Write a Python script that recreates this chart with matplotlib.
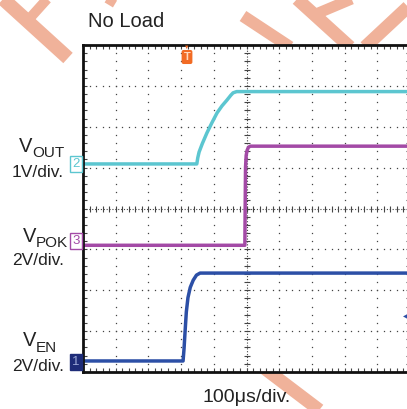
import numpy as np
import matplotlib
matplotlib.use("Agg")
import matplotlib.pyplot as plt
from matplotlib.lines import Line2D

plt.rcParams['font.family'] = ['Liberation Sans', 'DejaVu Sans']

# time in microseconds, 100us/div, 10 divisions
t_en = [0, 306, 309, 312, 316, 321, 328, 337, 347, 358, 1000]
v_en = [0, 0, 0.6, 1.4, 2.4, 3.1, 3.6, 3.95, 4.2, 4.3, 4.3]      # V, 2V/div

t_out = [0, 348, 351, 355, 365, 379, 395, 410, 425, 440, 452, 459, 470, 480, 1000]
v_out = [0, 0, 0.15, 0.29, 0.5, 0.76, 1.02, 1.25, 1.42, 1.56, 1.68, 1.74, 1.77, 1.77, 1.77]  # V, 1V/div

t_pok = [0, 495, 496, 497, 499, 502, 506, 512, 1000]
v_pok = [0, 0, 2.0, 3.8, 4.4, 4.65, 4.8, 4.85, 4.85]            # V, 2V/div

# channel ground positions (divisions from bottom) and volts/div
ch_offset = {"en": 0.27, "out": 5.09, "pok": 3.1}
ch_scale = {"en": 2.0, "out": 1.0, "pok": 2.0}

c_out = "#5cc6d0"
c_pok = "#a34aa6"
c_en = "#2c4fa6"
c_mark = "#f0b29a"
c_txt = "#222222"

W, H = 407, 409
fig = plt.figure(figsize=(W / 100, H / 100), dpi=100)


def fx(x):
    return x / W


def fy(y):
    return 1 - y / H


# watermark stripes behind the plot
stripes = [
    ((2, -2), (68, 58), 14),
    ((30, 18), (48, -2), 10),
    ((243, 16), (290, 47), 12),
    ((296, -2), (350, 47), 13),
    ((316, 14), (354, -2), 11),
    ((410, 5), (365, 47), 13),
    ((264, 368), (322, 412), 13),
    ((105, -2), (115, 4), 8),
]
for (x0, y0), (x1, y1), w in stripes:
    fig.add_artist(Line2D([fx(x0), fx(x1)], [fy(y0), fy(y1)], color=c_mark,
                          lw=w * 0.72, solid_capstyle='butt', zorder=0))

ax = fig.add_axes([fx(83), fy(372), 327 / W, 327 / H])
ax.set_facecolor("white")
ax.set_zorder(1)
ax.set_xlim(0, 10)
ax.set_ylim(0, 8)

# graticule
gcol = '#444444'
for gx in range(1, 10):
    if gx == 5:
        continue
    yy = np.arange(0.2, 8, 0.2)
    ax.plot(np.full_like(yy, gx), yy, ls='none', marker='s', ms=0.9, color=gcol, mew=0)
for gy in range(1, 8):
    if gy == 4:
        continue
    xx = np.arange(0.2, 10, 0.2)
    ax.plot(xx, np.full_like(xx, gy), ls='none', marker='s', ms=0.9, color=gcol, mew=0)
ax.plot([5, 5], [0, 8], color=gcol, lw=0.8, ls=(0, (1, 1.6)))
ax.plot([0, 10], [4, 4], color=gcol, lw=0.8, ls=(0, (1, 1.6)))
tk = np.arange(0.2, 10, 0.2)
ax.plot(tk, np.full_like(tk, 4), ls='none', marker='|', ms=4.5, mew=0.8, color=gcol)
tk = np.arange(0.2, 8, 0.2)
ax.plot(np.full_like(tk, 5), tk, ls='none', marker='_', ms=4.5, mew=0.8, color=gcol)

ax.set_xticks(np.arange(0, 10.01, 0.2))
ax.set_yticks(np.arange(0, 8.01, 0.2))
ax.tick_params(direction='in', length=3, width=0.8, color=gcol,
               top=True, right=True, labelbottom=False, labelleft=False)
for s in ax.spines.values():
    s.set_linewidth(2)
    s.set_color('#111111')


def div_x(t):
    return np.asarray(t) / 100.0


def div_y(v, ch):
    return ch_offset[ch] + np.asarray(v) / ch_scale[ch]


ax.plot(div_x(t_out), div_y(v_out, "out"), color=c_out, lw=2.5)
ax.plot(div_x(t_pok), div_y(v_pok, "pok"), color=c_pok, lw=2.5)
ax.plot(div_x(t_en), div_y(v_en, "en"), color=c_en, lw=2.5)
ax.plot(div_x(t_pok[1:3]), div_y(v_pok[1:3], "pok"), color=c_pok, lw=1.0)
ax.plot(div_x(t_en[1:4]), div_y(v_en[1:4], "en"), color=c_en, lw=1.2)

# trigger marker and trigger level
fig.text(fx(187), fy(57), "T", color="#ffd9c0", fontsize=8, fontweight='bold',
         ha='center', va='center', zorder=5,
         bbox=dict(boxstyle='round,pad=0.12', fc='#f26b24', ec='#f26b24'))
fig.text(fx(187), fy(47), "\u25BC", color='#f26b24', fontsize=4, ha='center', va='center', zorder=5)
fig.text(fx(405), fy(317), "\u25C0", color=c_en, fontsize=4, ha='center', va='center', zorder=5)

# channel markers
for label, y, fc, ec, tc in [("2", 164, "white", c_out, c_out),
                             ("3", 241, "white", c_pok, c_pok),
                             ("1", 362, "#1e2c78", "#1e2c78", "#9aa6d6")]:
    fig.text(fx(76), fy(y), label, color=tc, fontsize=9.5, ha='center', va='center', zorder=5,
             bbox=dict(boxstyle='square,pad=0.14', fc=fc, ec=ec, lw=1.0))

fig.text(fx(88), fy(27), "No Load", fontsize=14.5, color=c_txt, ha='left', va='baseline')
fig.text(fx(247), fy(402), "100\u03bcs/div.", fontsize=14, color=c_txt, ha='center', va='baseline')

# channel labels: big V with smaller subscript, then scale
for sub, xv, yv, ysub, ydiv in [("OUT", 19, 152, 157, 177),
                                ("POK", 23, 242, 247, 265),
                                ("EN", 23, 346, 352, 371)]:
    fig.text(fx(xv), fy(yv), "V", fontsize=14.5, color=c_txt, ha='left', va='baseline')
    fig.text(fx(xv + 13), fy(ysub), sub, fontsize=11, color=c_txt, ha='left', va='baseline')
    fig.text(fx(64), fy(ydiv), ("1" if sub == "OUT" else "2") + "V/div.", fontsize=12.5,
             color=c_txt, ha='right', va='baseline')

fig.savefig("out.png", dpi=100)
